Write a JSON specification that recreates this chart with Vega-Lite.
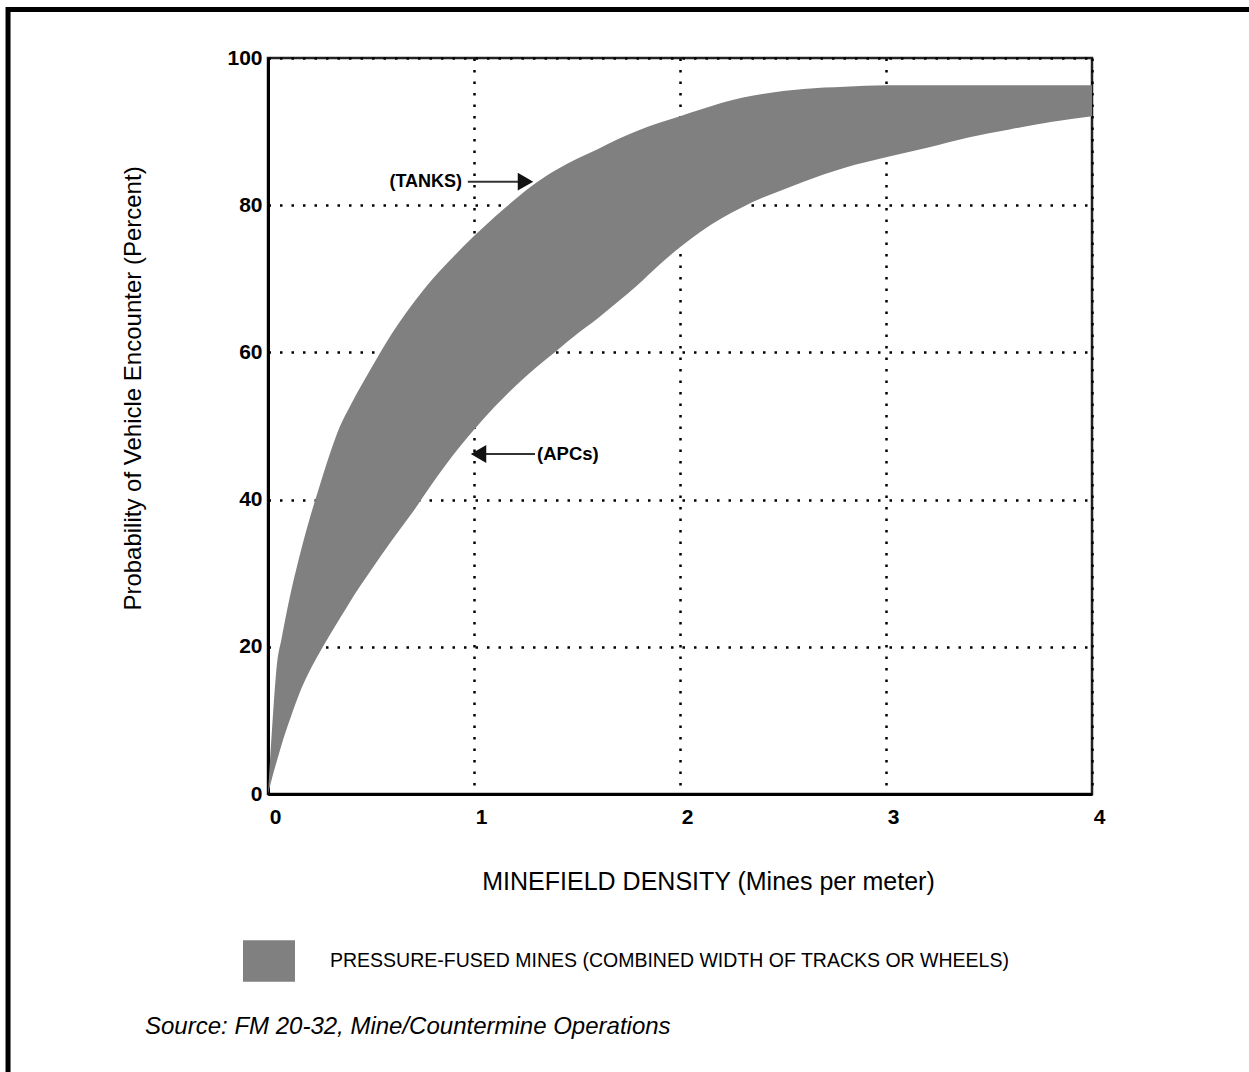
{
  "$schema": "https://vega.github.io/schema/vega-lite/v6.json",
  "width": 824,
  "height": 736,
  "autosize": "none",
  "padding": {"left": 268, "top": 58, "right": 157, "bottom": 278},
  "background": "white",
  "config": {
    "view": {"stroke": "#222222", "strokeWidth": 2.5},
    "font": "Liberation Sans"
  },
  "datasets": {
    "band": [
      {"d": 0, "hi": 0, "lo": 0},
      {"d": 0.02, "hi": 9, "lo": 2.2},
      {"d": 0.044, "hi": 17.8, "lo": 4.6},
      {"d": 0.065, "hi": 21, "lo": 6.6},
      {"d": 0.1, "hi": 26, "lo": 9.6},
      {"d": 0.15, "hi": 32, "lo": 13.5},
      {"d": 0.2, "hi": 37.2, "lo": 16.6},
      {"d": 0.25, "hi": 41.8, "lo": 19.2},
      {"d": 0.3, "hi": 46.2, "lo": 21.6},
      {"d": 0.35, "hi": 50, "lo": 23.9},
      {"d": 0.4, "hi": 52.8, "lo": 26.2},
      {"d": 0.5, "hi": 57.8, "lo": 30.4},
      {"d": 0.6, "hi": 62.5, "lo": 34.4},
      {"d": 0.7, "hi": 66.5, "lo": 38.2},
      {"d": 0.8, "hi": 70, "lo": 42.3},
      {"d": 0.9, "hi": 73, "lo": 46.1},
      {"d": 1.0, "hi": 75.8, "lo": 49.5},
      {"d": 1.1, "hi": 78.4, "lo": 52.6},
      {"d": 1.2, "hi": 80.8, "lo": 55.4},
      {"d": 1.3, "hi": 83, "lo": 57.9},
      {"d": 1.4, "hi": 84.8, "lo": 60.2},
      {"d": 1.5, "hi": 86.3, "lo": 62.5},
      {"d": 1.6, "hi": 87.6, "lo": 64.6},
      {"d": 1.7, "hi": 89, "lo": 66.9},
      {"d": 1.8, "hi": 90.2, "lo": 69.3},
      {"d": 1.9, "hi": 91.2, "lo": 71.9},
      {"d": 2.0, "hi": 92.1, "lo": 74.3},
      {"d": 2.1, "hi": 93, "lo": 76.4},
      {"d": 2.2, "hi": 93.9, "lo": 78.2},
      {"d": 2.3, "hi": 94.6, "lo": 79.7},
      {"d": 2.4, "hi": 95.1, "lo": 81},
      {"d": 2.5, "hi": 95.5, "lo": 82.1},
      {"d": 2.6, "hi": 95.8, "lo": 83.2},
      {"d": 2.8, "hi": 96.1, "lo": 85.1},
      {"d": 3.0, "hi": 96.3, "lo": 86.5},
      {"d": 3.2, "hi": 96.3, "lo": 87.8},
      {"d": 3.4, "hi": 96.3, "lo": 89.2},
      {"d": 3.6, "hi": 96.3, "lo": 90.3},
      {"d": 3.8, "hi": 96.3, "lo": 91.3},
      {"d": 4.0, "hi": 96.3, "lo": 92.1}
    ],
    "notes": [
      {"label": "(TANKS)", "tx": 0.942, "ty": 83.2, "ax1": 0.97, "ax2": 1.22, "ahx": 1.25, "ahs": "triangle-right", "al": "right"},
      {"label": "(APCs)", "tx": 1.306, "ty": 46.2, "ax1": 1.296, "ax2": 1.05, "ahx": 1.022, "ahs": "triangle-left", "al": "left"}
    ],
    "source": [
      {"text": "Source: FM 20-32, Mine/Countermine Operations", "sx": -0.597, "sy": -31.6}
    ]
  },
  "layer": [
    {
      "mark": {"type": "area", "interpolate": "monotone", "clip": true},
      "data": {"name": "band"},
      "transform": [{"calculate": "'PRESSURE-FUSED MINES (COMBINED WIDTH OF TRACKS OR WHEELS)'", "as": "series"}],
      "encoding": {
        "x": {
          "field": "d", "type": "quantitative",
          "scale": {"domain": [0, 4], "nice": false, "zero": false},
          "axis": {
            "values": [0, 1, 2, 3, 4],
            "format": "d",
            "title": "MINEFIELD DENSITY (Mines per meter)",
            "titleFont": "Liberation Sans",
            "titleFontSize": 25,
            "titleFontWeight": "normal",
            "titleColor": "black",
            "titlePadding": 42,
            "titleX": 440,
            "labelFont": "Liberation Sans",
            "labelFontSize": 21,
            "labelFontWeight": "bold",
            "labelColor": "black",
            "labelPadding": 12,
            "labelOffset": 7,
            "labelFlush": false,
            "ticks": false,
            "grid": true,
            "gridDash": [2.5, 9],
            "gridColor": "black",
            "gridWidth": 2.5,
            "domainColor": "black",
            "domainWidth": 3
          }
        },
        "y": {
          "field": "hi", "type": "quantitative",
          "scale": {"domain": [0, 100], "nice": false},
          "axis": {
            "values": [0, 20, 40, 60, 80, 100],
            "title": "Probability of Vehicle Encounter (Percent)",
            "titleFont": "Liberation Sans",
            "titleFontSize": 24,
            "titleFontWeight": "normal",
            "titleColor": "black",
            "titleX": -135,
            "titleY": 330,
            "titleAngle": -90,
            "titleBaseline": "middle",
            "titleAlign": "center",
            "labelFont": "Liberation Sans",
            "labelFontSize": 21,
            "labelFontWeight": "bold",
            "labelColor": "black",
            "labelPadding": 6,
            "ticks": false,
            "grid": true,
            "gridDash": [2.5, 9],
            "gridColor": "black",
            "gridWidth": 2.5,
            "domainColor": "black",
            "domainWidth": 3
          }
        },
        "y2": {"field": "lo"},
        "color": {
          "field": "series", "type": "nominal",
          "scale": {"range": ["#808080"]},
          "legend": {
            "orient": "none",
            "legendX": -25,
            "legendY": 877,
            "title": null,
            "symbolType": "M-1,-0.8H1V0.8H-1Z",
            "symbolSize": 2704,
            "symbolStrokeWidth": 0,
            "symbolOpacity": 1,
            "labelFont": "Liberation Sans",
            "labelFontSize": 19.5,
            "labelColor": "black",
            "labelOffset": 35,
            "labelLimit": 900
          }
        },
        "opacity": {"value": 1}
      }
    },
    {
      "data": {"name": "notes"},
      "mark": {"type": "rule", "color": "#333333", "strokeWidth": 2},
      "encoding": {
        "x": {"field": "ax1", "type": "quantitative"},
        "x2": {"field": "ax2"},
        "y": {"field": "ty", "type": "quantitative"}
      }
    },
    {
      "data": {"name": "notes"},
      "mark": {"type": "point", "filled": true, "color": "#111111", "size": 320, "opacity": 1},
      "encoding": {
        "x": {"field": "ahx", "type": "quantitative"},
        "y": {"field": "ty", "type": "quantitative"},
        "shape": {"field": "ahs", "type": "nominal", "scale": null}
      }
    },
    {
      "data": {"name": "notes"},
      "transform": [{"filter": "datum.al === 'right'"}],
      "mark": {"type": "text", "align": "right", "baseline": "middle", "fontWeight": "bold", "fontSize": 18, "font": "Liberation Sans", "color": "black"},
      "encoding": {
        "x": {"field": "tx", "type": "quantitative"},
        "y": {"field": "ty", "type": "quantitative"},
        "text": {"field": "label"}
      }
    },
    {
      "data": {"name": "notes"},
      "transform": [{"filter": "datum.al === 'left'"}],
      "mark": {"type": "text", "align": "left", "baseline": "middle", "fontWeight": "bold", "fontSize": 18.5, "font": "Liberation Sans", "color": "black"},
      "encoding": {
        "x": {"field": "tx", "type": "quantitative"},
        "y": {"field": "ty", "type": "quantitative"},
        "text": {"field": "label"}
      }
    },
    {
      "data": {"name": "source"},
      "mark": {"type": "text", "align": "left", "baseline": "middle", "fontStyle": "italic", "fontSize": 24, "font": "Liberation Sans", "color": "black", "clip": false},
      "encoding": {
        "x": {"field": "sx", "type": "quantitative"},
        "y": {"field": "sy", "type": "quantitative"},
        "text": {"field": "text"}
      }
    },
    {
      "data": {"values": [{}]},
      "mark": {"type": "rect", "fill": null, "fillOpacity": 0, "stroke": "black", "strokeWidth": 5, "clip": false},
      "encoding": {
        "x": {"datum": -1.262, "type": "quantitative"},
        "x2": {"datum": 4.79},
        "y": {"datum": 106.6, "type": "quantitative"},
        "y2": {"datum": -45}
      }
    }
  ]
}
